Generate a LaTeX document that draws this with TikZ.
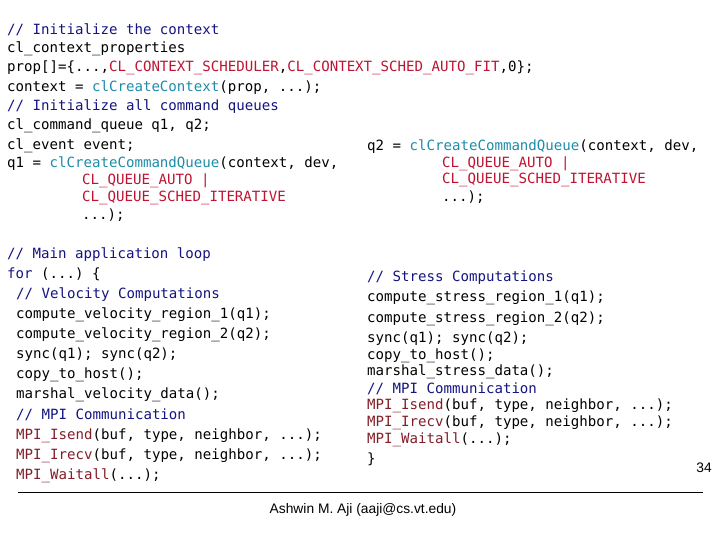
\documentclass[tikz,border=0pt]{standalone}
\usepackage{fontspec}
\setmonofont{DejaVu Sans Mono}
\setsansfont{Liberation Sans}
\definecolor{cmt}{RGB}{20,20,130}
\definecolor{fn}{RGB}{30,140,170}
\definecolor{cst}{RGB}{190,20,50}
\definecolor{mpi}{RGB}{130,30,40}
\newcommand{\C}[1]{\textcolor{cmt}{#1}}
\newcommand{\F}[1]{\textcolor{fn}{#1}}
\newcommand{\K}[1]{\textcolor{cst}{#1}}
\newcommand{\M}[1]{\textcolor{mpi}{#1}}
\begin{document}
\begin{tikzpicture}[x=1pt,y=-1pt,
  code/.style={anchor=west,inner sep=0pt,font=\ttfamily\fontsize{14.1}{15}\selectfont,text=black},
  foot/.style={anchor=center,inner sep=0pt,font=\sffamily\fontsize{13.8}{15}\selectfont}]
\useasboundingbox (0,0) rectangle (720,540);
\fill[white] (0,0) rectangle (720,540);
% left top
\node[code] (l1) at (7,30) {\C{// Initialize the context}};
\node[code] (l2) at (7,49) {cl\_context\_properties};
\node[code] (l3) at (7,68) {prop[]=\{...,\K{CL\_CONTEXT\_SCHEDULER},\K{CL\_CONTEXT\_SCHED\_AUTO\_FIT},0\};};
\node[code] (l4) at (7,88) {context = \F{clCreateContext}(prop, ...);};
\node[code] (l5) at (7,107) {\C{// Initialize all command queues}};
\node[code] (l6) at (7,126) {cl\_command\_queue q1, q2;};
\node[code] (l7) at (7,146) {cl\_event event;};
\node[code] (l8) at (7,164) {q1 = \F{clCreateCommandQueue}(context, dev,};
\node[code] (l9) at (82,181) {\K{CL\_QUEUE\_AUTO |}};
\node[code] (l10) at (82,198) {\K{CL\_QUEUE\_SCHED\_ITERATIVE}};
\node[code] (l11) at (82,215) {...);};
% right top
\node[code] (r1) at (367,147) {q2 = \F{clCreateCommandQueue}(context, dev,};
\node[code] (r2) at (442,164) {\K{CL\_QUEUE\_AUTO |}};
\node[code] (r3) at (442,180) {\K{CL\_QUEUE\_SCHED\_ITERATIVE}};
\node[code] (r4) at (442,197) {...);};
% left bottom
\node[code] (b1) at (7,255) {\C{// Main application loop}};
\node[code] (b2) at (7,274) {\C{for} (...) \{};
\node[code] (b3) at (16,295) {\C{// Velocity Computations}};
\node[code] (b4) at (16,315) {compute\_velocity\_region\_1(q1);};
\node[code] (b5) at (16,335) {compute\_velocity\_region\_2(q2);};
\node[code] (b6) at (16,355) {sync(q1); sync(q2);};
\node[code] (b7) at (16,375) {copy\_to\_host();};
\node[code] (b8) at (16,395) {marshal\_velocity\_data();};
\node[code] (b9) at (16,415) {\C{// MPI Communication}};
\node[code] (b10) at (16,436) {\M{MPI\_Isend}(buf, type, neighbor, ...);};
\node[code] (b11) at (16,456) {\M{MPI\_Irecv}(buf, type, neighbor, ...);};
\node[code] (b12) at (16,476) {\M{MPI\_Waitall}(...);};
% right bottom
\node[code] (s1) at (367,278) {\C{// Stress Computations}};
\node[code] (s2) at (367,298) {compute\_stress\_region\_1(q1);};
\node[code] (s3) at (367,319) {compute\_stress\_region\_2(q2);};
\node[code] (s4) at (367,339) {sync(q1); sync(q2);};
\node[code] (s5) at (367,356) {copy\_to\_host();};
\node[code] (s6) at (367,372) {marshal\_stress\_data();};
\node[code] (s7) at (367,389) {\C{// MPI Communication}};
\node[code] (s8) at (367,406) {\M{MPI\_Isend}(buf, type, neighbor, ...);};
\node[code] (s9) at (367,423) {\M{MPI\_Irecv}(buf, type, neighbor, ...);};
\node[code] (s10) at (367,440) {\M{MPI\_Waitall}(...);};
\node[code] (s11) at (367,459) {\}};
% footer
\node[foot] (pg) at (704,468) {34};
\draw[line width=0.8pt] (18,492) coordinate (fa) -- (703,492) coordinate (fb);
\node[foot] (au) at (363,510) {Ashwin M. Aji (aaji@cs.vt.edu)};
\end{tikzpicture}
\end{document}
